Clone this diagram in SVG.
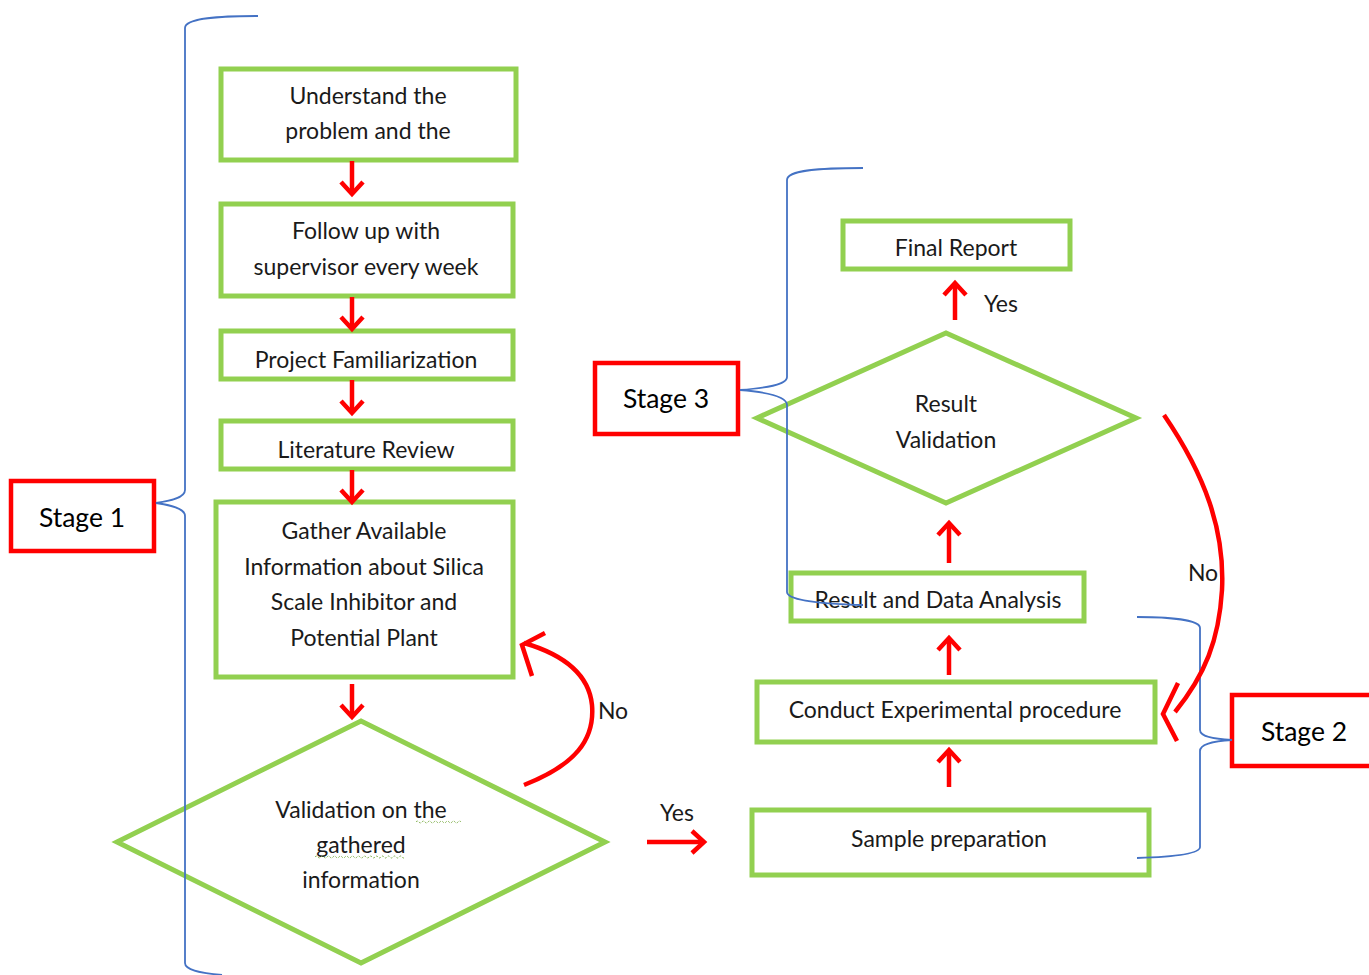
<svg xmlns="http://www.w3.org/2000/svg" width="1369" height="975" viewBox="0 0 1369 975">
<style>
.n{fill:#fff;stroke:#92D050;stroke-width:5}
.s{fill:#fff;stroke:#FF0000;stroke-width:4.5}
.t{font-family:Lato,"Open Sans",sans-serif;font-size:23px;fill:#1a1a1a;text-anchor:middle}
.st{font-family:Lato,"Open Sans",sans-serif;font-size:26.5px;fill:#000;text-anchor:middle}
.a{fill:none;stroke:#FF0000;stroke-width:4.5}
.b{fill:none;stroke:#4472C4;stroke-width:1.8}
.sq{fill:none;stroke:#7FB04B;stroke-width:1;stroke-dasharray:2 1.5}
</style>
<defs>
<marker id="ah" markerUnits="userSpaceOnUse" markerWidth="32" markerHeight="32" viewBox="-16 -16 32 32" refX="0" refY="0" orient="auto">
<path d="M-12,-11 L0,0 L-12,11" fill="none" stroke="#FF0000" stroke-width="4.5"/>
</marker>
</defs>
<rect width="1369" height="975" fill="#fff"/>

<g id="stage1"><rect class="s" x="11" y="481" width="143" height="70"/><text class="st" x="82" y="527">Stage 1</text></g>
<g id="stage3"><rect class="s" x="595" y="363" width="143" height="71"/><text class="st" x="666" y="408">Stage 3</text></g>
<g id="stage2"><rect class="s" x="1232" y="695" width="140" height="71"/><text class="st" x="1304" y="741">Stage 2</text></g>

<g id="n1"><rect class="n" x="221" y="69" width="295" height="91"/><text class="t" x="368" y="104">Understand the</text><text class="t" x="368" y="139">problem and the</text></g>
<g id="n2"><rect class="n" x="221" y="204" width="292" height="92"/><text class="t" x="366" y="239">Follow up with</text><text class="t" x="366" y="275">supervisor every week</text></g>
<g id="n3"><rect class="n" x="221" y="331" width="292" height="48"/><text class="t" x="366" y="368">Project Familiarization</text></g>
<g id="n4"><rect class="n" x="221" y="421" width="292" height="48"/><text class="t" x="366" y="458">Literature Review</text></g>
<g id="n5"><rect class="n" x="216" y="502" width="297" height="175"/><text class="t" x="364" y="539">Gather Available</text><text class="t" x="364" y="575">Information about Silica</text><text class="t" x="364" y="610">Scale Inhibitor and</text><text class="t" x="364" y="646">Potential Plant</text></g>
<g id="n6"><polygon class="n" points="117,842 361,721 605,842 361,963"/><text class="t" x="361" y="818">Validation on the</text><text class="t" x="361" y="853">gathered</text><text class="t" x="361" y="888">information</text>
<path class="sq" d="M416,822 q1.5,-2 3,0 t3,0 t3,0 t3,0 t3,0 t3,0 t3,0 t3,0 t3,0 t3,0 t3,0 t3,0 t3,0 t3,0 t3,0"/>
<path class="sq" d="M315,857 q1.5,-2 3,0 t3,0 t3,0 t3,0 t3,0 t3,0 t3,0 t3,0 t3,0 t3,0 t3,0 t3,0 t3,0 t3,0 t3,0 t3,0 t3,0 t3,0 t3,0 t3,0 t3,0 t3,0 t3,0 t3,0 t3,0 t3,0 t3,0 t3,0 t3,0 t3,0"/>
</g>

<g id="n7"><rect class="n" x="752" y="810" width="397" height="65"/><text class="t" x="949" y="847">Sample preparation</text></g>
<g id="n8"><rect class="n" x="757" y="682" width="398" height="60"/><text class="t" x="955" y="718">Conduct Experimental  procedure</text></g>
<g id="n9"><rect class="n" x="791" y="573" width="293" height="48"/><text class="t" x="938" y="608">Result and Data Analysis</text></g>
<g id="n10"><polygon class="n" points="757,418 946,333 1136,418 946,503"/><text class="t" x="946" y="412">Result</text><text class="t" x="946" y="448">Validation</text></g>
<g id="n11"><rect class="n" x="843" y="221" width="227" height="48"/><text class="t" x="956" y="256">Final Report</text></g>

<g id="braces">
<path class="b" d="M258,16 C220,16 185,18 185,28 L185,490 C185,498 170,501 156,503 C170,505 185,508 185,516 L185,963 C185,970 200,973 222,975"/>
<path class="b" d="M863,168 C820,168 787,170 787,180 L787,377 C787,385 765,388 740,390 C765,392 787,396 787,405 L787,592 C787,600 820,604 863,605"/>
<path class="b" d="M1137,617 C1170,617 1200,620 1200,628 L1200,730 C1200,737 1215,739 1232,740 C1215,741 1200,744 1200,751 L1200,847 C1200,854 1170,857 1137,858"/>
</g>

<g id="connectors">
<path class="a" d="M352,161 L352,194" marker-end="url(#ah)"/>
<path class="a" d="M352,297 L352,329" marker-end="url(#ah)"/>
<path class="a" d="M352,380 L352,413" marker-end="url(#ah)"/>
<path class="a" d="M352,470 L352,502" marker-end="url(#ah)"/>
<path class="a" d="M352,684 L352,717" marker-end="url(#ah)"/>
<path class="a" d="M647,842 L704,842" marker-end="url(#ah)"/>
<path class="a" d="M949,787 L949,750" marker-end="url(#ah)"/>
<path class="a" d="M949,675 L949,638" marker-end="url(#ah)"/>
<path class="a" d="M949,563 L949,523" marker-end="url(#ah)"/>
<path class="a" d="M955,320 L955,283" marker-end="url(#ah)"/>
<path class="a" d="M524,785 C575,765 595,740 592,705 C589,675 565,655 524,643"/>
<path class="a" d="M545,633 L522,645 L532,676"/>
<path class="a" d="M1164,415 C1205,475 1225,530 1222,590 C1219,640 1205,675 1175,712"/>
<path class="a" d="M1178,683 L1163,714 L1177,741"/>
<text class="t" x="613" y="719">No</text>
<text class="t" x="677" y="821">Yes</text>
<text class="t" x="1001" y="312">Yes</text>
<text class="t" x="1203" y="581">No</text>
</g>
</svg>
